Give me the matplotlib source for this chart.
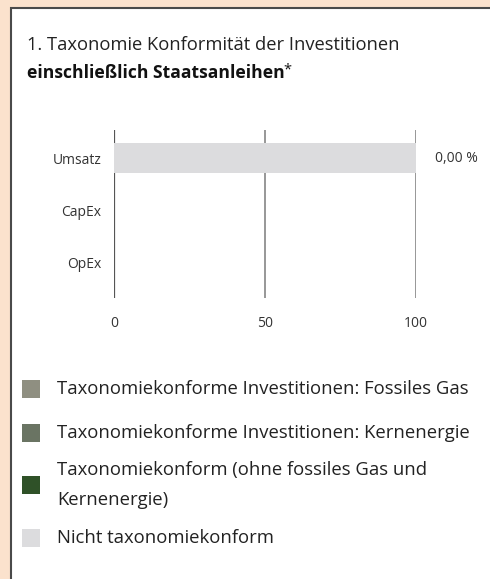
import matplotlib.pyplot as plt
from matplotlib.patches import Rectangle

plt.rcParams['font.family'] = ['Open Sans', 'DejaVu Sans']

# data
categories = ['Umsatz', 'CapEx', 'OpEx']
series_names = [
    'Taxonomiekonforme Investitionen: Fossiles Gas',
    'Taxonomiekonforme Investitionen: Kernenergie',
    'Taxonomiekonform (ohne fossiles Gas und\nKernenergie)',
    'Nicht taxonomiekonform',
]
fossil_gas = [0, 0, 0]
nuclear = [0, 0, 0]
aligned = [0, 0, 0]
not_aligned = [100, 0, 0]
value_labels = ['0,00 %', '', '']
x_ticks = [0, 50, 100]

colors = ['#8f8f81', '#6a7463', '#2f5128', '#dcdcde']
peach = '#fbe2cd'
W, H = 490, 579

fig = plt.figure(figsize=(W / 100, H / 100), dpi=100, facecolor=peach)

# white panel with dark frame
fig.patches.append(Rectangle((10.5 / W, -0.1), 1.2, (H - 7.5) / H + 0.1,
                             transform=fig.transFigure, facecolor='white',
                             edgecolor='#4a4a4a', linewidth=1.5, zorder=-5))

fig.text(27 / W, 1 - 45 / H, '1. Taxonomie Konformität der Investitionen',
         fontsize=13.2, color='#222222', va='center')
t = fig.text(27 / W, 1 - 73 / H, 'einschließlich Staatsanleihen',
             fontsize=12.6, fontweight='bold', color='#111111', va='center')
fig.canvas.draw()
bb = t.get_window_extent()
fig.text((bb.x1 - 1) / W, 1 - 70 / H, '*', fontsize=10.5, color='#111111',
         va='center')

ax = fig.add_axes([114 / W, (H - 298) / H, (416 - 114) / W, 168 / H])
ax.set_facecolor('none')
ax.set_zorder(2)

series = [fossil_gas, nuclear, aligned, not_aligned]
left = [0, 0, 0]
containers = []
for vals, c in zip(series, colors):
    bc = ax.barh(range(len(categories)), vals, left=left, height=0.58,
                 color=c, zorder=2)
    containers.append(bc)
    left = [l + v for l, v in zip(left, vals)]

ax.bar_label(containers[-1], labels=value_labels, padding=14,
             fontsize=10, color='#333333')

ax.set_xlim(0, 100)
ax.set_ylim(2.69, -0.54)
ax.set_yticks(range(len(categories)))
ax.set_yticklabels(categories)
ax.set_xticks(x_ticks)
ax.tick_params(axis='both', length=0, labelsize=10, labelcolor='#333333')
ax.tick_params(axis='y', pad=9)
ax.tick_params(axis='x', pad=13)
for s in ax.spines.values():
    s.set_visible(False)
for xv in x_ticks:
    ax.axvline(xv, color='#555555' if xv == 0 else '#7a7a7a',
               lw=1.6 if xv == 0 else 1.1, zorder=1)

# legend
row_y = [389, 433, 485, 538]
for name, c, y in zip(series_names, colors, row_y):
    fig.patches.append(Rectangle((22 / W, 1 - (y + 9) / H), 18 / W, 18 / H,
                                 transform=fig.transFigure, facecolor=c,
                                 edgecolor='none'))
    fig.text(57 / W, 1 - y / H, name, fontsize=13.3, color='#222222',
             va='center', linespacing=1.85)

fig.savefig('out.png', dpi=100, facecolor=peach)
